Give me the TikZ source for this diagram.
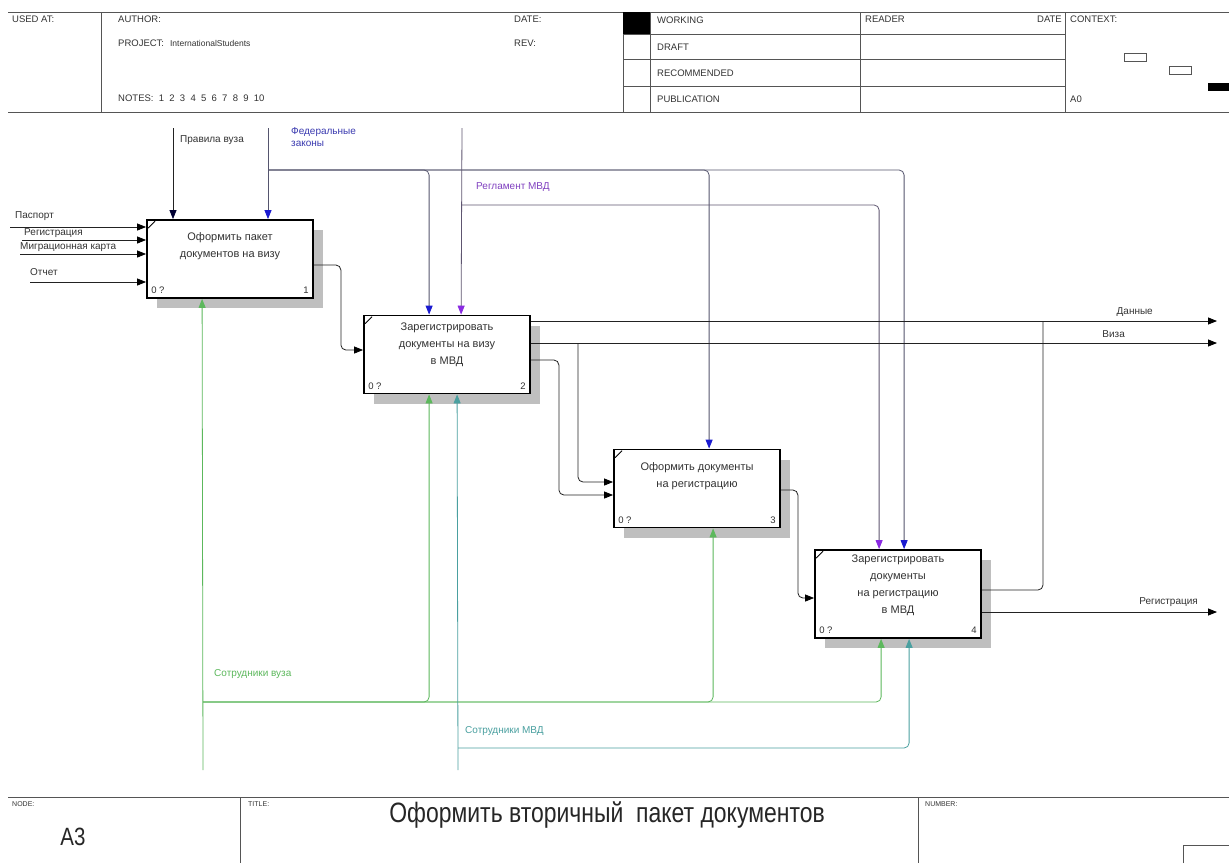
\documentclass[tikz,border=0pt]{standalone}
\usepackage{fontspec}
\setmainfont{Liberation Sans}
\newfontfamily\narrowfont[FakeStretch=0.82]{Liberation Sans}
\usetikzlibrary{arrows.meta,shadows,calc}
\definecolor{linec}{HTML}{222222}
\definecolor{framec}{HTML}{555555}
\definecolor{fedl}{HTML}{55556e}
\definecolor{regl}{HTML}{5e5570}
\definecolor{blueA}{HTML}{1a1ad0}
\definecolor{blueT}{HTML}{3a3ab0}
\definecolor{purpA}{HTML}{8a2be2}
\definecolor{purpT}{HTML}{8040c0}
\definecolor{grnc}{HTML}{5cb85c}
\definecolor{tealc}{HTML}{4aa0a0}
\tikzset{
  frame/.style={draw=framec, line width=0.9pt},
  hd/.style={font=\fontsize{9.5}{11}\selectfont, text=black!80, inner sep=0pt},
  small/.style={font=\fontsize{7}{8}\selectfont, text=black!80, inner sep=0pt},
  box/.style={draw=black, line width=1.8pt, fill=white, minimum width=166pt,
    minimum height=78pt, inner sep=0pt,
    drop shadow={shadow xshift=10pt, shadow yshift=-10pt, fill=gray!50, opacity=1}},
  btext/.style={align=center, font=\fontsize{11}{17}\selectfont, text=black!80, inner sep=0pt},
  corner/.style={font=\fontsize{9.5}{11}\selectfont, text=black!80, inner sep=0pt},
  lab/.style={font=\fontsize{10}{12}\selectfont, text=black!80, inner sep=0pt},
  tip/.style={-{Triangle[length=9pt,width=7pt,color=#1]}},
  conn/.style={draw=linec, line width=0.8pt, rounded corners=5pt},
}
\begin{document}
\begin{tikzpicture}[x=1pt,y=-1pt]
\useasboundingbox (0,0) rectangle (1229,863);
\fill[white] (0,0) rectangle (1229,863);
% ---------- header frame ----------
\draw[frame] (8,12) -- (1229,12);
\draw[frame] (8,112) -- (1229,112);
\draw[frame] (101,12) -- (101,112);
\draw[frame] (623,12) -- (623,112);
\draw[frame] (650,12) -- (650,112);
\draw[frame] (860,12) -- (860,112);
\draw[frame] (1065,12) -- (1065,112);
\draw[frame] (623,34) -- (1065,34);
\draw[frame] (623,59) -- (1065,59);
\draw[frame] (623,86) -- (1065,86);
\fill[black] (623,12) rectangle (650,34);
\node[hd, anchor=west] (usedat) at (12,19) {USED AT:};
\node[hd, anchor=west] (author) at (118,19) {AUTHOR:};
\node[hd, anchor=west] (project) at (118,43) {PROJECT:\hspace{6pt}{\fontsize{8.5}{9}\selectfont InternationalStudents}};
\node[hd, anchor=west] (notes) at (118,98) {NOTES:\ \ 1\ \ 2\ \ 3\ \ 4\ \ 5\ \ 6\ \ 7\ \ 8\ \ 9\ \ 10};
\node[hd, anchor=west] (date1) at (514,19) {DATE:};
\node[hd, anchor=west] (rev) at (514,43) {REV:};
\node[hd, anchor=west] (working) at (657,20) {WORKING};
\node[hd, anchor=west] (draft) at (657,47) {DRAFT};
\node[hd, anchor=west] (recom) at (657,73) {RECOMMENDED};
\node[hd, anchor=west] (public) at (657,99) {PUBLICATION};
\node[hd, anchor=west] (reader) at (865,19) {READER};
\node[hd, anchor=east] (date2) at (1062,19) {DATE};
\node[hd, anchor=west] (context) at (1070,19) {CONTEXT:};
\node[hd, anchor=west] (azero) at (1070,99) {A0};
\draw[framec, line width=0.8pt] (1124,53) rectangle (1146,61);
\draw[framec, line width=0.8pt] (1169,66) rectangle (1191,74);
\fill[black] (1208,83) rectangle (1229,91);
% ---------- footer frame ----------
\draw[frame] (8,797) -- (1229,797);
\draw[frame] (240,797) -- (240,863);
\draw[frame] (918,797) -- (918,863);
\draw[frame] (1183,863) -- (1183,845) -- (1229,845);
\node[small, anchor=west] (nodel) at (12,804) {NODE:};
\node[small, anchor=west] (titlel) at (248,804) {TITLE:};
\node[small, anchor=west] (numberl) at (925,804) {NUMBER:};
\node[font=\narrowfont\fontsize{25}{27}\selectfont, text=black!85, inner sep=0pt] (nodeid) at (73,837) {A3};
\node[font=\narrowfont\fontsize{28}{30}\selectfont, text=black!85, inner sep=0pt] (title) at (607,815) {Оформить вторичный\ \ пакет документов};
% ---------- boxes ----------
\node[box] (b1) at (230,259) {};
\node[box] (b2) at (447,354.5) {};
\node[box] (b3) at (697,488.5) {};
\node[box, minimum height=88pt] (b4) at (898,594) {};
\foreach \b in {b1,b2,b3,b4}{
  \draw[line width=0.8pt] ([xshift=2pt,yshift=-9pt]\b.north west) -- ([xshift=9pt,yshift=-2pt]\b.north west);
  \node[corner, anchor=south west] (\b z) at ([xshift=5pt,yshift=5pt]\b.south west) {0 ?};
}
\node[corner, anchor=south east] (b1n) at ([xshift=-5pt,yshift=5pt]b1.south east) {1};
\node[corner, anchor=south east] (b2n) at ([xshift=-5pt,yshift=5pt]b2.south east) {2};
\node[corner, anchor=south east] (b3n) at ([xshift=-5pt,yshift=5pt]b3.south east) {3};
\node[corner, anchor=south east] (b4n) at ([xshift=-5pt,yshift=5pt]b4.south east) {4};
\node[btext] (t1) at (230,246) {Оформить пакет\\документов на визу};
\node[btext] (t2) at (447,345) {Зарегистрировать\\документы на визу\\в МВД};
\node[btext] (t3) at (697,476) {Оформить документы\\на регистрацию};
\node[btext] (t4) at (898,585) {Зарегистрировать\\документы\\на регистрацию\\в МВД};
% ---------- inputs ----------
\coordinate (iP) at (10,227);
\coordinate (iR) at (22,240);
\coordinate (iM) at (20,254);
\coordinate (iO) at (30,282);
\foreach \c in {iP,iR,iM,iO}{\draw[conn, tip=black] (\c) -- (\c -| b1.west);}
\node[lab, anchor=west] (lP) at (15,216) {Паспорт};
\node[lab, anchor=west] (lR) at (24,233) {Регистрация};
\node[lab, anchor=west] (lM) at (20,247) {Миграционная карта};
\node[lab, anchor=west] (lO) at (30,272) {Отчет};
% ---------- controls ----------
\coordinate (cPr) at (173,128);
\coordinate (cFed) at (268,128);
\coordinate (fJ) at (268,170);
\coordinate (cReg) at (462,128);
\coordinate (rJ) at (462,205);
\draw[conn, tip=black!80!blue] (cPr) -- (cPr |- b1.north);
\draw[conn, draw=fedl, tip=blueA] (cFed) -- (cFed |- b1.north);
\draw[conn, draw=fedl, tip=blueA] (fJ) -| ([xshift=66pt]b2.north west);
\draw[conn, draw=fedl, tip=blueA] (fJ) -| ([xshift=96pt]b3.north west);
\draw[conn, draw=fedl, tip=blueA] (fJ) -| ([xshift=90pt]b4.north west);
\draw[conn, draw=regl, tip=purpA] (cReg) -- ([xshift=98pt]b2.north west);
\draw[conn, draw=regl, tip=purpA] (rJ) -| ([xshift=65pt]b4.north west);
\node[lab, anchor=west] (lPr) at (180,140) {Правила вуза};
\node[lab, anchor=north west, align=left, text=blueT] (lFed) at (291,127) {Федеральные\\законы};
\node[lab, anchor=west, text=purpT] (lReg) at (476,187) {Регламент МВД};
% ---------- outputs ----------
\coordinate (oD) at (1217,321);
\coordinate (oV) at (1217,343);
\coordinate (oR) at (1217,612);
\coordinate (vJ) at (578,343);
\draw[conn, tip=black] ([yshift=-6pt]b1.east) -- ++(27,0) |- ([yshift=4.5pt]b2.west);
\draw[conn, tip=black] (b2.east |- oD) -- (oD);
\draw[conn, tip=black] (b2.east |- oV) -- (oV);
\draw[conn, tip=black] (vJ) |- ([yshift=6.5pt]b3.west);
\draw[conn, tip=black] ([yshift=-5.5pt]b2.east) -- ++(28,0) |- ([yshift=-6.5pt]b3.west);
\draw[conn, tip=black] ([yshift=-1.5pt]b3.east) -- ++(17,0) |- ([yshift=-4pt]b4.west);
\draw[conn] ([yshift=4pt]b4.east) -| (1043,321);
\draw[conn, tip=black] (b4.east |- oR) -- (oR);
\node[lab, anchor=east] (lD) at (1153,312) {Данные};
\node[lab, anchor=east] (lV) at (1125,334) {Виза};
\node[lab, anchor=east] (lRg) at (1198,602) {Регистрация};
% ---------- mechanisms ----------
\coordinate (mV) at (203,770);
\coordinate (gJ) at (203,702);
\coordinate (mM) at (458,770);
\coordinate (tJ) at (458,748);
\draw[conn, draw=grnc, tip=grnc] (mV) -- ([xshift=56pt]b1.south west);
\draw[conn, draw=grnc, tip=grnc] (gJ) -| ([xshift=66pt]b2.south west);
\draw[conn, draw=grnc, tip=grnc] (gJ) -| ([xshift=100pt]b3.south west);
\draw[conn, draw=grnc, tip=grnc] (gJ) -| ([xshift=67pt]b4.south west);
\draw[conn, draw=tealc, tip=tealc] (mM) -- ([xshift=94pt]b2.south west);
\draw[conn, draw=tealc, tip=tealc] (tJ) -| ([xshift=95pt]b4.south west);
\node[lab, anchor=west, text=grnc] (lSV) at (214,674) {Сотрудники вуза};
\node[lab, anchor=west, text=tealc] (lSM) at (465,731) {Сотрудники МВД};
\end{tikzpicture}
\end{document}
